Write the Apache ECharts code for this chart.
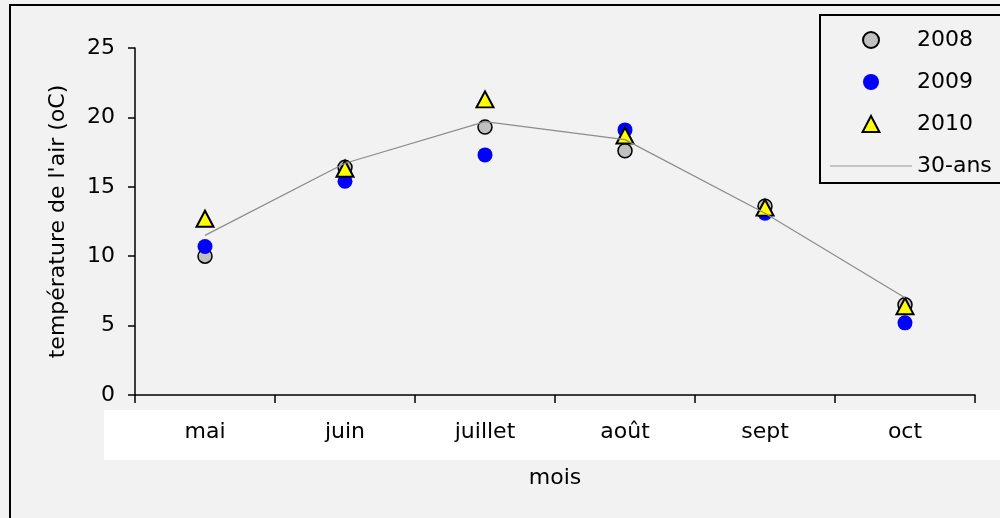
<!DOCTYPE html>
<html>
<head>
<meta charset="utf-8">
<script src="https://cdn.jsdelivr.net/npm/echarts@6/dist/echarts.min.js"></script>
<style>
  html, body { margin: 0; padding: 0; background: #f2f2f2; }
  #chart { width: 1000px; height: 518px; }
</style>
</head>
<body>
<div id="chart"></div>
<script>
const categories = ['mai', 'juin', 'juillet', 'août', 'sept', 'oct'];
const temp2008 = [10.0, 16.4, 19.3, 17.6, 13.6, 6.5];
const temp2009 = [10.7, 15.4, 17.3, 19.1, 13.1, 5.2];
const temp2010 = [12.7, 16.3, 21.3, 18.7, 13.5, 6.4];
const normale30 = [11.5, 16.7, 19.7, 18.4, 13.1, 7.0];
const yTicks = { min: 0, max: 25, interval: 5 };

const FONT = 'DejaVu Sans';
const FS = 22;
const chart = echarts.init(document.getElementById('chart'), null, { renderer: 'canvas' });

chart.setOption({
  backgroundColor: '#f2f2f2',
  animation: false,
  textStyle: { fontFamily: FONT, color: '#000' },
  grid: { left: 135, right: 25, top: 48, bottom: 123 },
  graphic: [
    { type: 'rect', z: -1, shape: { x: 104, y: 410, width: 896, height: 50 }, style: { fill: '#ffffff' } },
    { type: 'rect', shape: { x: 10, y: 5, width: 1000, height: 530 }, style: { fill: 'none', stroke: '#000', lineWidth: 2 } },
    { type: 'rect', shape: { x: 820, y: 15, width: 200, height: 168 }, style: { fill: 'none', stroke: '#000', lineWidth: 2 } }
  ],
  legend: {
    orient: 'vertical',
    left: 830,
    top: 29,
    padding: 0,
    itemWidth: 82,
    itemHeight: 16,
    itemGap: 20,
    symbolKeepAspect: true,
    data: [
      { name: '2008', icon: 'circle' },
      { name: '2009', icon: 'circle' },
      { name: '2010', icon: 'path://M0,-1L1,0.9L-1,0.9Z' },
      { name: '30-ans', icon: 'path://M0,0H82V1.2H0Z', itemStyle: { color: '#9a9a9a', borderWidth: 0 } }
    ],
    textStyle: { fontFamily: FONT, fontSize: FS, color: '#000', lineHeight: 22 }
  },
  xAxis: {
    type: 'category',
    data: categories,
    boundaryGap: true,
    name: 'mois',
    nameLocation: 'middle',
    nameGap: 72,
    nameTextStyle: { fontFamily: FONT, fontSize: FS, color: '#000' },
    axisLine: { lineStyle: { color: '#000', width: 1.5 } },
    axisTick: { show: true, length: 8, alignWithLabel: false, lineStyle: { color: '#000', width: 1.5 } },
    axisLabel: { fontFamily: FONT, fontSize: FS, color: '#000', margin: 26 },
    splitLine: { show: false }
  },
  yAxis: {
    type: 'value',
    min: yTicks.min,
    max: yTicks.max,
    interval: yTicks.interval,
    name: "température de l'air (oC)",
    nameLocation: 'middle',
    nameRotate: 90,
    nameGap: 66,
    nameTextStyle: { fontFamily: FONT, fontSize: FS, color: '#000' },
    axisLine: { show: true, lineStyle: { color: '#000', width: 1.5 } },
    axisTick: { show: true, length: 7, lineStyle: { color: '#000', width: 1.5 } },
    axisLabel: { fontFamily: FONT, fontSize: FS, color: '#000', margin: 20 },
    splitLine: { show: false }
  },
  series: [
    {
      name: '30-ans',
      type: 'line',
      data: normale30,
      showSymbol: false,
      symbol: 'none',
      lineStyle: { color: '#8c8c8c', width: 1.2 },
      itemStyle: { color: '#8c8c8c' }
    },
    {
      name: '2008',
      type: 'scatter',
      data: temp2008,
      symbol: 'circle',
      symbolSize: 14,
      itemStyle: { color: '#c0c0c0', borderColor: '#000', borderWidth: 1.5, opacity: 1 }
    },
    {
      name: '2009',
      type: 'scatter',
      data: temp2009,
      symbol: 'circle',
      symbolSize: 15,
      itemStyle: { color: '#0000ff', opacity: 1 }
    },
    {
      name: '2010',
      type: 'scatter',
      data: temp2010,
      symbol: 'triangle',
      symbolSize: [17, 16],
      itemStyle: { color: '#ffff00', borderColor: '#000', borderWidth: 2, opacity: 1 }
    }
  ]
});
</script>
</body>
</html>
